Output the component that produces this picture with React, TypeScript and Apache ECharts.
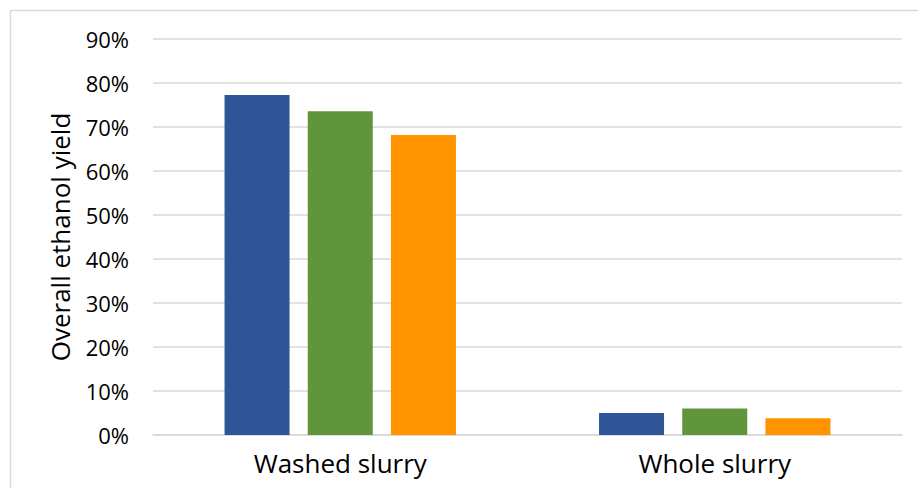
import React, { useEffect, useRef } from "react";
import * as echarts from "echarts";

const categories = ["Washed slurry", "Whole slurry"];
const seriesNames = ["Series 1", "Series 2", "Series 3"];
const series1 = [77.3, 5.0];
const series2 = [73.6, 6.0];
const series3 = [68.2, 3.8];
const seriesColors = ["#2F5597", "#61953C", "#FF9300"];
const yTicksMax = 90;

export default function App() {
  const ref = useRef<HTMLDivElement>(null);
  useEffect(() => {
    if (!ref.current) return;
    const chart = echarts.init(ref.current, null, { renderer: "svg" });
    const values = [series1, series2, series3];
    chart.setOption({
      animation: false,
      textStyle: { fontFamily: "Open Sans" },
      graphic: [
        {
          type: "rect",
          shape: { x: 10.5, y: 10.5, width: 930, height: 500 },
          style: { fill: "none", stroke: "#d9d9d9", lineWidth: 1.5 },
          silent: true,
        },
      ],
      grid: { left: 153, right: 16, top: 39, bottom: 53 },
      xAxis: {
        type: "category",
        data: categories,
        axisTick: { show: false },
        axisLine: { lineStyle: { color: "#d9d9d9", width: 1.5 } },
        axisLabel: { color: "#000", fontSize: 26, margin: 15, fontFamily: "Open Sans" },
      },
      yAxis: {
        type: "value",
        min: 0,
        max: yTicksMax,
        interval: 10,
        name: "Overall ethanol yield",
        nameLocation: "middle",
        nameRotate: 90,
        nameGap: 80,
        nameTextStyle: { color: "#000", fontSize: 26, fontFamily: "Open Sans" },
        axisLabel: {
          color: "#000",
          fontSize: 22,
          margin: 24,
          fontFamily: "Open Sans",
          formatter: (v: number) => `${v}%`,
        },
        splitLine: { lineStyle: { color: "#d9d9d9", width: 1.5 } },
        axisLine: { show: false },
        axisTick: { show: false },
      },
      series: values.map((d, i) => ({
        type: "bar",
        name: seriesNames[i],
        data: d,
        barWidth: 65,
        barGap: "28%",
        itemStyle: { color: seriesColors[i] },
      })),
    });
    return () => chart.dispose();
  }, []);
  return (
    <div
      ref={ref}
      style={{ position: "absolute", left: 0, top: 0, width: 918, height: 488, background: "#fff" }}
    />
  );
}
